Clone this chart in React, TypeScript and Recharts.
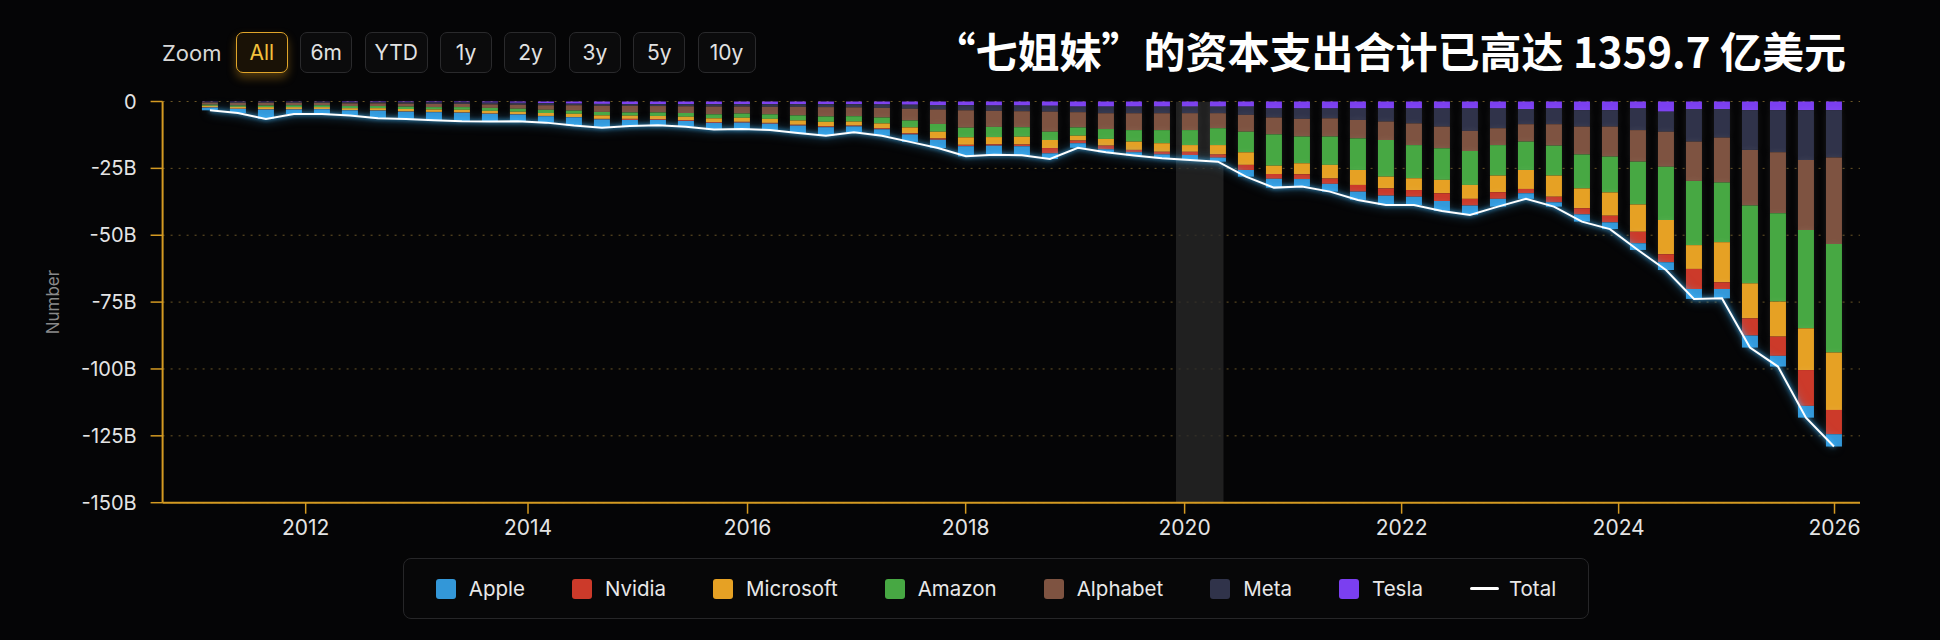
import React from "react";
import {
  ComposedChart,
  Bar,
  Line,
  XAxis,
  YAxis,
  CartesianGrid,
  ReferenceArea,
} from "recharts";

// capex per quarter, billions USD (drawn as negative)
const tesla = [0.1,0.1,0.1,0.1,0.1,0.2,0.2,0.2,0.3,0.3,0.4,0.5,0.6,0.8,0.9,1.0,1.0,1.0,1.0,1.0,1.0,1.0,1.0,1.0,1.1,1.2,1.3,1.4,1.5,1.5,1.6,1.9,1.9,1.9,1.9,1.9,1.9,1.9,2.6,2.6,2.6,2.6,2.6,2.6,2.6,2.6,2.6,2.8,2.6,3.2,3.2,2.6,3.8,2.8,2.8,3.2,3.2,3.2,3.2];
const meta = [0.3,0.4,0.4,0.4,0.4,0.5,0.5,0.6,0.6,0.6,0.7,0.7,0.8,0.6,0.7,0.6,0.7,0.8,0.9,0.9,1.0,1.0,1.1,1.2,1.3,1.5,1.7,1.9,2.0,2.1,2.2,2.1,2.5,2.5,2.5,2.5,2.5,3.1,3.4,3.9,3.7,4.3,4.9,5.6,6.8,8.4,7.4,5.7,5.9,6.2,6.2,8.1,7.5,12.2,10.7,14.9,15.8,18.7,17.7];
const alphabet = [0.8,1.0,1.0,0.9,0.9,1.0,1.0,1.1,1.2,1.2,1.3,1.5,1.7,2.0,2.3,2.5,2.4,2.5,2.9,2.6,2.8,3.2,3.5,3.3,3.6,4.4,5.4,6.5,6.0,6.0,7.5,5.7,5.9,6.3,6.3,6.3,5.6,6.3,6.3,6.6,6.8,6.9,6.9,8.1,8.1,7.5,6.3,6.5,8.0,10.4,11.2,11.8,13.1,14.7,16.8,20.8,22.8,26.1,32.4];
const amazon = [0.4,0.5,0.6,0.7,0.7,0.8,0.8,0.9,0.9,1.0,1.1,1.1,1.2,1.2,1.3,1.2,1.3,1.4,1.5,1.6,1.7,1.9,2.0,2.0,2.2,2.6,2.9,3.6,3.8,3.6,3.1,3.1,3.7,4.3,4.9,5.6,6.3,7.7,11.7,10.0,10.6,11.8,13.7,12.4,11.8,12.7,11.4,10.6,11.2,12.7,13.4,16.0,19.9,24.0,22.3,29.1,33.0,36.8,40.5];
const microsoft = [0.6,0.7,0.8,0.8,0.7,0.7,0.8,0.9,0.9,1.0,1.0,1.0,1.1,1.2,1.3,1.2,1.2,1.3,1.4,1.5,1.5,1.6,1.7,1.5,1.8,2.2,2.5,2.8,2.7,2.9,3.0,1.8,2.5,3.1,3.2,2.5,3.5,4.7,3.1,4.1,5.1,5.6,4.4,4.4,5.0,5.2,6.2,7.1,7.9,7.4,8.7,10.2,12.8,8.9,15.0,13.1,13.1,15.6,21.5];
const nvidia = [0.1,0.1,0.1,0.1,0.1,0.1,0.1,0.1,0.1,0.1,0.1,0.1,0.1,0.1,0.2,0.4,0.3,0.3,0.3,0.3,0.3,0.3,0.3,0.3,0.4,0.4,0.5,0.5,0.5,0.6,2.0,1.0,1.4,0.9,1.0,1.2,1.2,1.9,1.8,1.8,2.0,2.5,2.7,2.5,2.9,2.5,2.5,1.6,2.1,2.3,2.5,4.3,3.0,7.5,2.5,6.4,7.2,13.4,9.1];
const apple = [1.0,1.5,3.5,1.7,1.8,1.9,2.9,2.7,3.0,3.2,2.9,2.5,2.4,3.1,3.1,2.3,2.0,2.1,2.5,2.4,2.4,2.8,3.2,2.2,2.4,2.8,3.1,3.8,3.4,3.4,2.1,1.7,1.1,1.2,1.4,1.9,1.5,2.5,3.3,2.8,2.9,3.1,3.5,3.1,3.7,3.5,2.9,2.1,1.6,2.7,2.5,2.5,2.9,3.7,3.5,4.5,4.0,4.4,4.6];

// ordinal axis: year boundaries sit between bars
const yearTickPos = [3.42, 11.36, 19.2, 26.99, 34.81, 42.56, 50.31, 58.02];
const yearTickLabels = ["2012", "2014", "2016", "2018", "2020", "2022", "2024", "2026"];
const yTicks = [0, -25, -50, -75, -100, -125, -150];
const covidBand = [34.5, 36.2];

const zoomButtons = ["All", "6m", "YTD", "1y", "2y", "3y", "5y", "10y"];

// stack order: first series sits at zero
const series = [
  { key: "Tesla", values: tesla, color: "#7b3ff0" },
  { key: "Meta", values: meta, color: "#30334a" },
  { key: "Alphabet", values: alphabet, color: "#7e5341" },
  { key: "Amazon", values: amazon, color: "#47a843" },
  { key: "Microsoft", values: microsoft, color: "#e6a124" },
  { key: "Nvidia", values: nvidia, color: "#cc3a2a" },
  { key: "Apple", values: apple, color: "#3397d8" },
];
const legendOrder = ["Apple", "Nvidia", "Microsoft", "Amazon", "Alphabet", "Meta", "Tesla"];

const data = tesla.map((_, i) => {
  const row: Record<string, number> = { i };
  let total = 0;
  series.forEach((s) => {
    row[s.key] = -s.values[i];
    total += s.values[i];
  });
  row.total = -Math.round(total * 10) / 10;
  return row;
});

const ORANGE = "#d49a22";
const FONT = "Inter, 'Noto Sans', sans-serif";

export default function App() {
  return (
    <div
      style={{
        position: "relative",
        width: 1940,
        height: 640,
        background: "#050506",
        fontFamily: FONT,
        overflow: "hidden",
      }}
    >
      <style>{`
        body { margin: 0; background: #050506; }
        .total-line .recharts-curve { filter: drop-shadow(0 0 2px #3fb8ff) drop-shadow(0 0 5px rgba(63,184,255,0.55)); }
        .capex-bars .recharts-rectangle { filter: drop-shadow(0 0 3px rgba(255,255,255,0.08)); }
      `}</style>

      {/* range selector */}
      <div
        style={{
          position: "absolute",
          left: 162,
          top: 32,
          display: "flex",
          alignItems: "center",
          gap: 12.4,
        }}
      >
        <span style={{ color: "#d8d8d8", fontSize: 22, marginRight: 2 }}>Zoom</span>
        {zoomButtons.map((b) => {
          const active = b === "All";
          return (
            <div
              key={b}
              style={{
                height: 39,
                width: b === "YTD" ? 61 : b === "10y" ? 56 : 50,
                border: `1px solid ${active ? "#e0a52a" : "#2a2a2c"}`,
                borderRadius: 7,
                background: active ? "#1a1206" : "#0b0b0c",
                color: active ? "#f4c23c" : "#e2e2e2",
                fontSize: 21,
                display: "flex",
                alignItems: "center",
                justifyContent: "center",
                boxShadow: active ? "0 5px 10px rgba(230,160,30,0.35)" : "none",
              }}
            >
              {b}
            </div>
          );
        })}
      </div>

      {/* title */}
      <div
        style={{
          position: "absolute",
          right: 94,
          top: 27,
          color: "#ffffff",
          fontSize: 42,
          fontWeight: 700,
          fontFamily: "'Noto Sans CJK SC', 'Noto Sans', sans-serif",
          whiteSpace: "nowrap",
          lineHeight: 1.1,
        }}
      >
        “七姐妹”的资本支出合计已高达 1359.7 亿美元
      </div>

      <ComposedChart
        width={1940}
        height={640}
        data={data}
        stackOffset="sign"
        margin={{ top: 101.5, right: 80, bottom: 97.3, left: 0 }}
        style={{ position: "absolute", left: 0, top: 0 }}
      >
        <CartesianGrid
          horizontal
          vertical={false}
          stroke="#6a5526"
          strokeDasharray="2 6"
        />
        <ReferenceArea
          x1={covidBand[0]}
          x2={covidBand[1]}
          fill="#2a2a2a"
          fillOpacity={0.75}
          stroke="none"
          ifOverflow="hidden"
        />
        <XAxis
          type="number"
          dataKey="i"
          domain={[-1.69, 58.93]}
          allowDataOverflow
          ticks={yearTickPos}
          tickFormatter={(v: number) => yearTickLabels[yearTickPos.indexOf(v)] ?? ""}
          interval={0}
          height={40}
          axisLine={{ stroke: ORANGE, strokeWidth: 2 }}
          tickLine={{ stroke: ORANGE, strokeWidth: 1.5 }}
          tickSize={11}
          tickMargin={6}
          tick={{ fill: "#e4e4e4", fontSize: 21, fontFamily: FONT }}
        />
        <YAxis
          type="number"
          domain={[-150, 0]}
          ticks={yTicks}
          interval={0}
          width={162.6}
          axisLine={{ stroke: ORANGE, strokeWidth: 2 }}
          tickLine={{ stroke: ORANGE, strokeWidth: 1.5 }}
          tickSize={12}
          tickMargin={14}
          tickFormatter={(v: number) => (v === 0 ? "0" : `${v}B`)}
          tick={{ fill: "#e4e4e4", fontSize: 20, fontFamily: FONT }}
          label={{
            value: "Number",
            angle: -90,
            position: "insideLeft",
            offset: 53,
            style: { fill: "#8a8a8a", fontSize: 17, fontFamily: FONT, textAnchor: "middle" },
          }}
        />
        {series.map((s) => (
          <Bar
            key={s.key}
            dataKey={s.key}
            stackId="capex"
            fill={s.color}
            barSize={16}
            className="capex-bars"
            isAnimationActive={false}
          />
        ))}
        <Line
          type="linear"
          dataKey="total"
          stroke="#ffffff"
          strokeWidth={2}
          dot={false}
          activeDot={false}
          className="total-line"
          isAnimationActive={false}
        />
      </ComposedChart>

      {/* legend */}
      <div
        style={{
          position: "absolute",
          left: 403,
          top: 558,
          width: 1184,
          height: 59,
          border: "1px solid #262628",
          borderRadius: 8,
          background: "#070708",
          display: "flex",
          alignItems: "center",
          justifyContent: "center",
          gap: 47,
        }}
      >
        {legendOrder.map((name) => {
          const s = series.find((x) => x.key === name)!;
          return (
            <div key={name} style={{ display: "flex", alignItems: "center", gap: 13 }}>
              <div style={{ width: 20, height: 20, borderRadius: 3, background: s.color }} />
              <span style={{ color: "#e8e8e8", fontSize: 20.5 }}>{name}</span>
            </div>
          );
        })}
        <div style={{ display: "flex", alignItems: "center", gap: 10 }}>
          <div style={{ width: 29, height: 3, borderRadius: 2, background: "#ffffff" }} />
          <span style={{ color: "#e8e8e8", fontSize: 20.5 }}>Total</span>
        </div>
      </div>
    </div>
  );
}
